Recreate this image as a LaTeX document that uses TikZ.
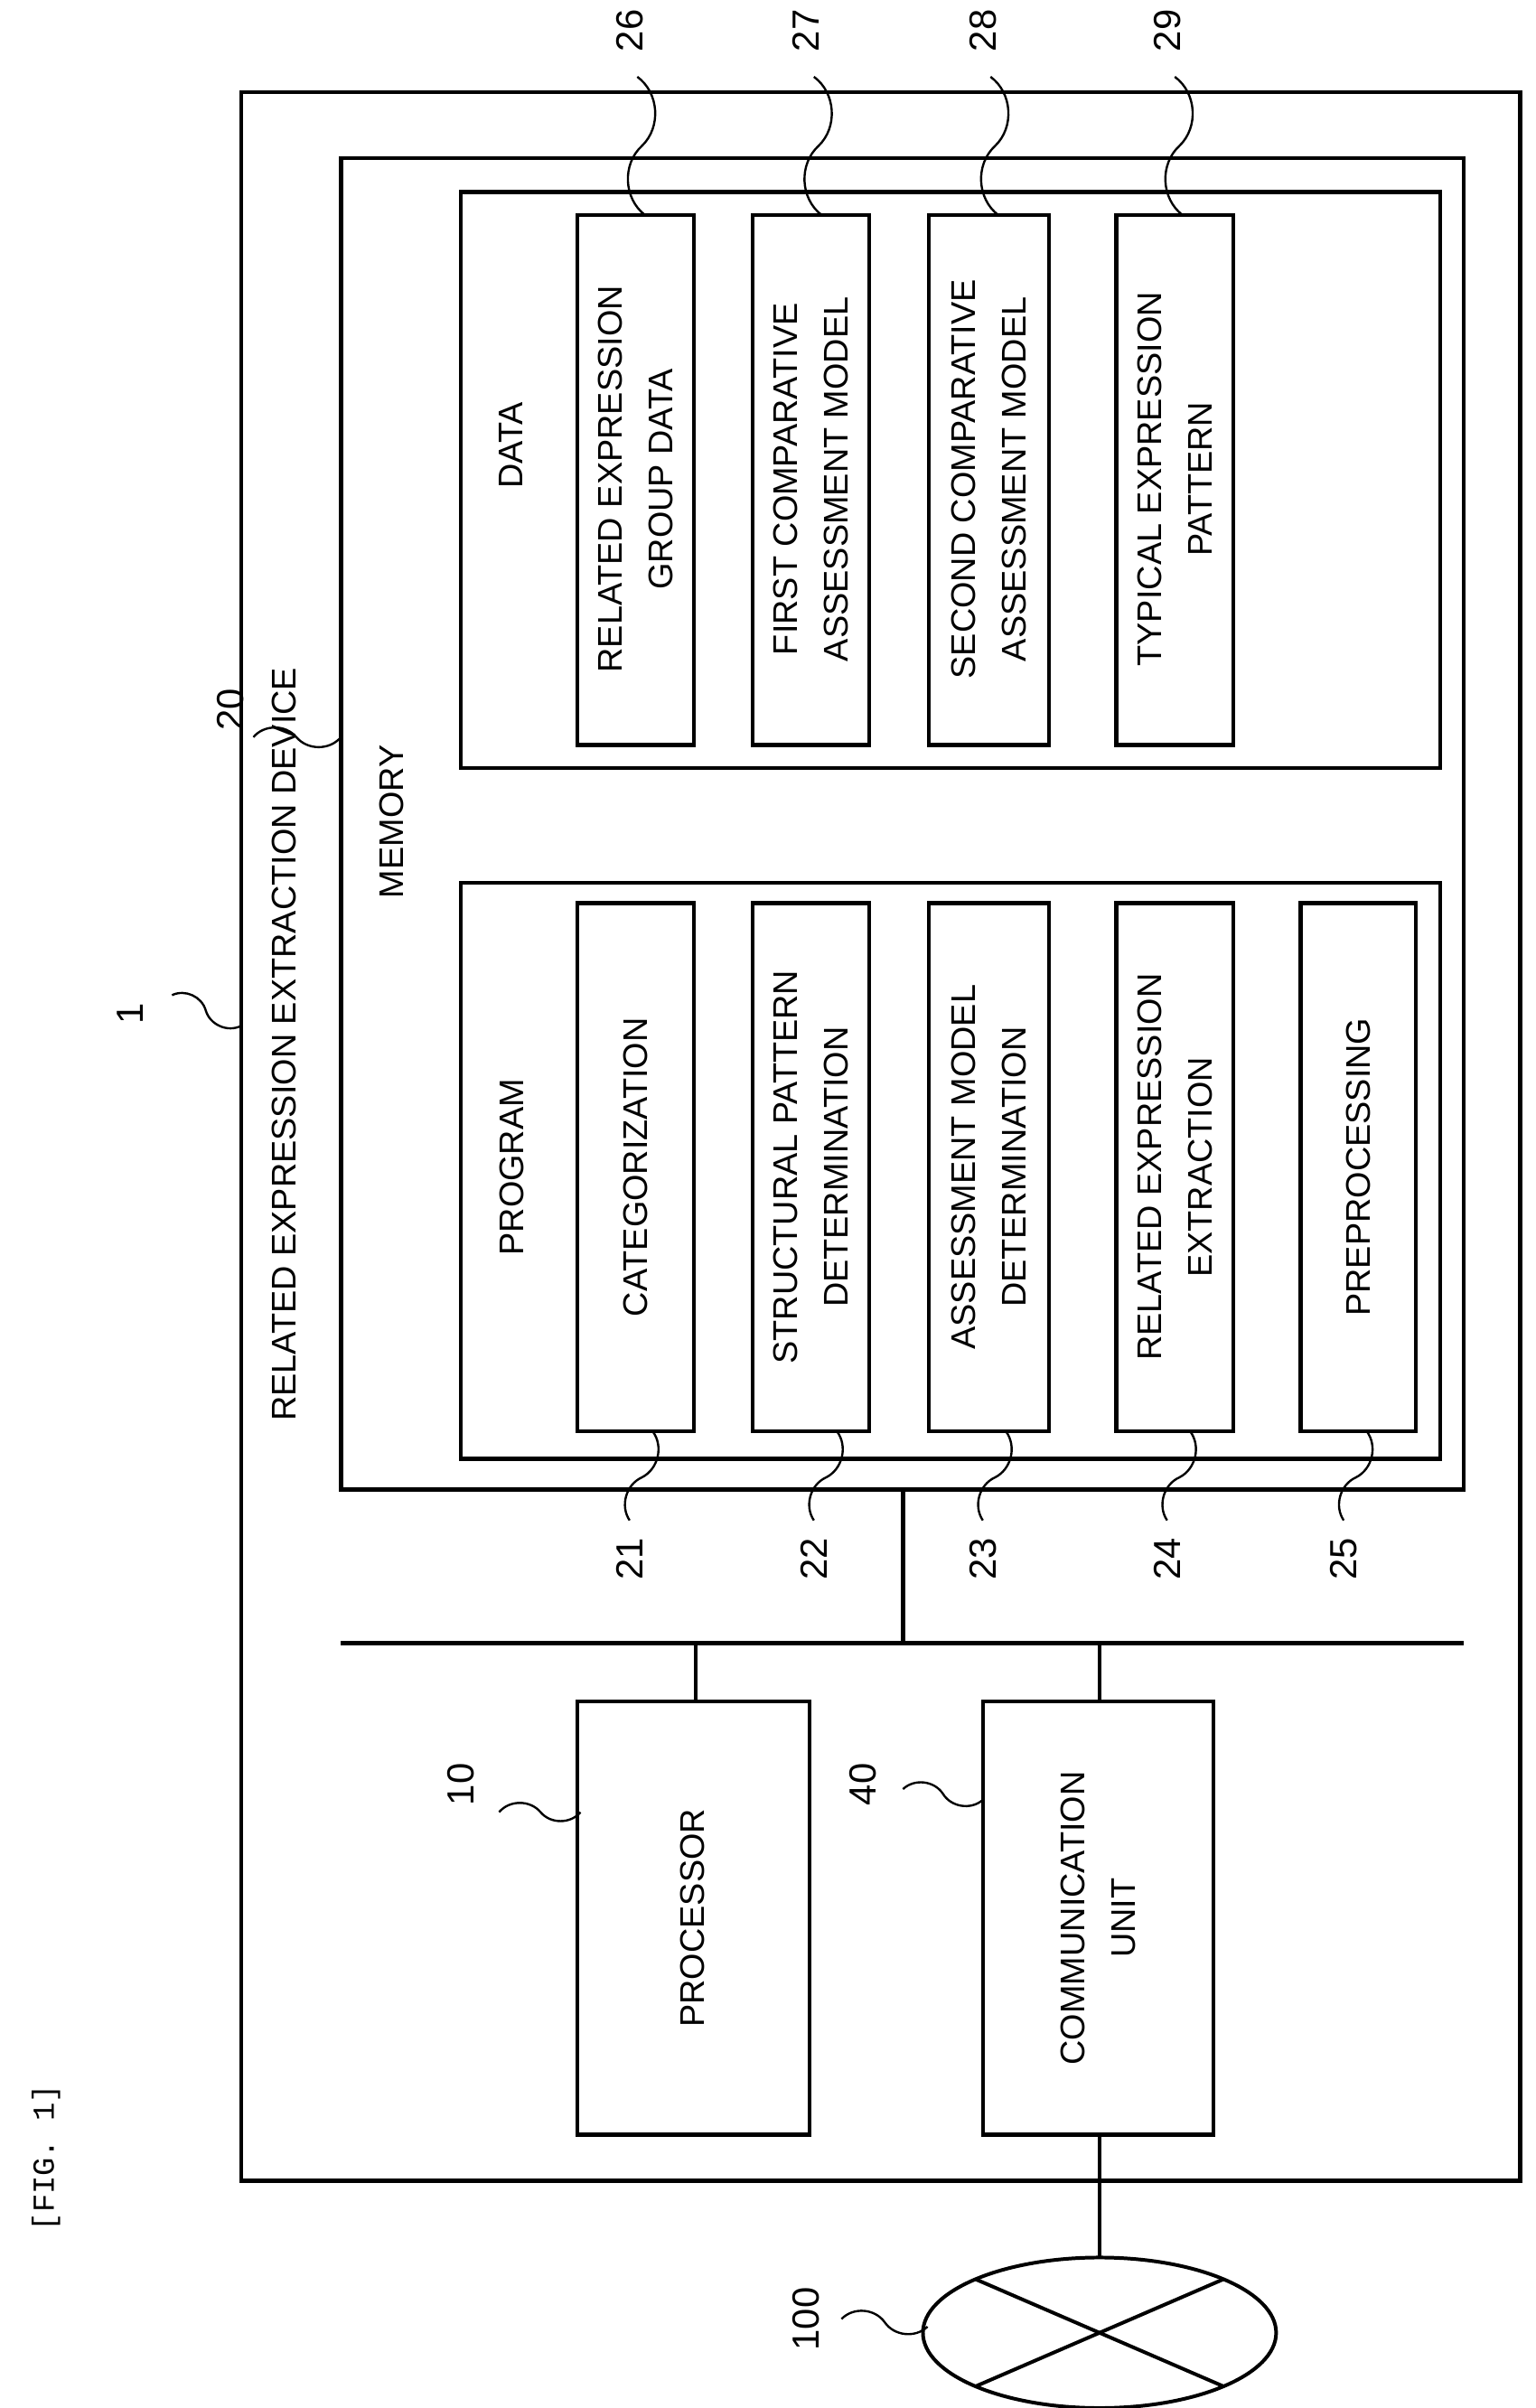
\documentclass[tikz,border=0pt]{standalone}
\usepackage{fontspec}
\setmainfont{Liberation Sans}
\setmonofont{Liberation Mono}
\begin{document}
\begin{tikzpicture}[x=0.03cm,y=-0.03cm,
  box/.style={draw,line width=2.2pt},
  txt/.style={rotate=90,align=center,font=\fontsize{19}{28}\selectfont},
  num/.style={rotate=90,font=\fontsize{21}{24}\selectfont},
  sq/.style={line width=1.2pt},
  ln/.style={line width=2.2pt}]
\useasboundingbox (0,0) rectangle (1000,1568);
\draw[box] (157,60) rectangle (990,1420);
\draw[box] (222,103) rectangle (953,970);
\draw[box] (300,125) rectangle (938,500);
\draw[box] (300,575) rectangle (938,950);
\node[txt] at (185,680) {RELATED EXPRESSION EXTRACTION DEVICE};
\node[txt] at (255,535) {MEMORY};
\node[txt] at (333,290) {DATA};
\node[txt] at (333,760) {PROGRAM};
% data boxes
\foreach \a/\b/\t [count=\i from 26] in {376/452/{RELATED EXPRESSION\\GROUP DATA},490/566/{FIRST COMPARATIVE\\ASSESSMENT MODEL},605/683/{SECOND COMPARATIVE\\ASSESSMENT MODEL},727/803/{TYPICAL EXPRESSION\\PATTERN}}{
  \draw[box] (\a,140) rectangle (\b,485);
  \node[txt] at ({(\a+\b)/2},312) {\t};
}
\foreach \a/\b/\t in {376/452/{CATEGORIZATION},490/566/{STRUCTURAL PATTERN\\DETERMINATION},605/683/{ASSESSMENT MODEL\\DETERMINATION},727/803/{RELATED EXPRESSION\\EXTRACTION},847/922/{PREPROCESSING}}{
  \draw[box] (\a,588) rectangle (\b,932);
  \node[txt] at ({(\a+\b)/2},760) {\t};
}
% bus
\draw[ln] (222,1070) -- (953,1070);
\draw[ln] (588,970) -- (588,1070);
\draw[box] (376,1108) rectangle (527,1390);
\node[txt] at (451,1249) {PROCESSOR};
\draw[box] (640,1108) rectangle (790,1390);
\node[txt] at (715,1249) {COMMUNICATION\\UNIT};
\draw[ln] (453,1070) -- (453,1108);
\draw[ln] (716,1070) -- (716,1108);
\draw[ln] (716,1390) -- (716,1470);
\draw[line width=2pt] (716,1519) ellipse [x radius=115,y radius=49];
\draw[line width=2pt] ({716-81},{1519-35}) -- ({716+81},{1519+35});
\draw[line width=2pt] ({716-81},{1519+35}) -- ({716+81},{1519-35});
% numbers with squiggles
\newcommand\sqq[2]{\draw[sq] (#1) .. controls +(0,0) and +(-12,-12) .. ($(#1)!0.5!(#2)$) .. controls +(12,12) and +(0,0) .. (#2);}
\node[num] at (85,660) {1};
\draw[sq] (112,648) to[bend left=50] (134,658) to[bend right=50] (157,668);
\node[num] at (150,462) {20};
\draw[sq] (165,480) to[bend left=50] (193,480) to[bend right=50] (222,480);
\foreach \x [count=\i from 26] in {410,525,640,760}{
  \node[num] at (\x,20) {\i};
  \draw[sq] (\x+5,50) to[bend left=50] (\x+8,95) to[bend right=50] (\x+10,140);
}
\foreach \x [count=\i from 21] in {410,530,640,760,875}{
  \node[num] at (\x,1015) {\i};
  \draw[sq] (\x+15,932) to[bend left=50] (\x+8,962) to[bend right=50] (\x,990);
}
\node[num] at (300,1162) {10};
\draw[sq] (325,1180) to[bend left=50] (352,1180) to[bend right=50] (378,1180);
\node[num] at (562,1162) {40};
\draw[sq] (588,1165) to[bend left=50] (614,1168) to[bend right=50] (640,1172);
\node[num] at (525,1510) {100};
\draw[sq] (548,1510) to[bend left=50] (576,1512) to[bend right=50] (604,1515);
\node[rotate=90,font=\ttfamily\fontsize{17}{20}\selectfont] at (30,1405) {[FIG. 1]};
\end{tikzpicture}
\end{document}
